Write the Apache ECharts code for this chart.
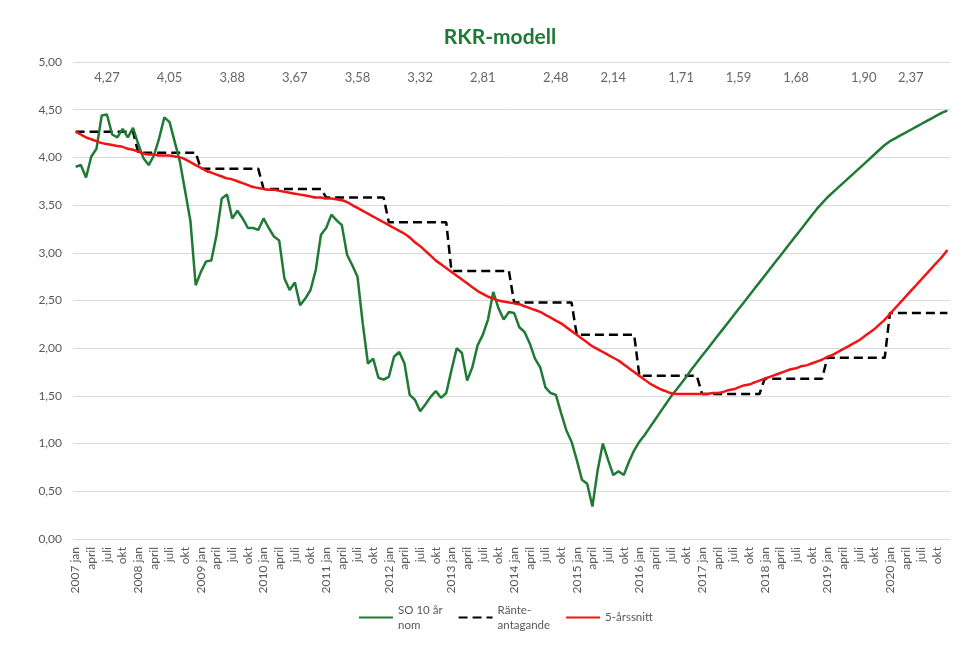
<!DOCTYPE html>
<html>
<head>
<meta charset="utf-8">
<script src="https://cdn.jsdelivr.net/npm/echarts@6/dist/echarts.min.js"></script>
<style>
  html, body { margin: 0; padding: 0; background: #ffffff; }
  #chart { width: 978px; height: 646px; }
</style>
</head>
<body>
<div id="chart"></div>
<script>
// Årtal och månadsnamn för kategoriaxeln
const years = [2007, 2008, 2009, 2010, 2011, 2012, 2013, 2014, 2015, 2016, 2017, 2018, 2019, 2020];
const monthNames = ['jan', 'feb', 'mars', 'april', 'maj', 'juni', 'juli', 'aug', 'sep', 'okt', 'nov', 'dec'];

// SO 10 år nom, månadsvärden jan 2007 – dec 2020
const so10Nom = [
  3.90, 3.92, 3.79, 4.01, 4.09, 4.44, 4.45, 4.24, 4.21, 4.30, 4.21, 4.31,
  4.14, 3.99, 3.92, 4.02, 4.20, 4.42, 4.37, 4.16, 3.95, 3.64, 3.33, 2.66,
  2.80, 2.91, 2.92, 3.19, 3.57, 3.61, 3.36, 3.44, 3.36, 3.26, 3.26, 3.24,
  3.36, 3.26, 3.17, 3.13, 2.73, 2.61, 2.69, 2.45, 2.52, 2.61, 2.82, 3.19,
  3.26, 3.40, 3.34, 3.29, 2.98, 2.87, 2.75, 2.26, 1.84, 1.89, 1.69, 1.67,
  1.70, 1.91, 1.96, 1.84, 1.51, 1.46, 1.34, 1.41, 1.49, 1.55, 1.48, 1.53,
  1.77, 2.00, 1.95, 1.66, 1.80, 2.03, 2.14, 2.30, 2.59, 2.42, 2.30, 2.38,
  2.37, 2.22, 2.17, 2.05, 1.89, 1.80, 1.59, 1.53, 1.51, 1.32, 1.14, 1.02,
  0.83, 0.62, 0.58, 0.34, 0.72, 1.00, 0.83, 0.67, 0.71, 0.67, 0.81, 0.93,
  1.02, 1.09, 1.17, 1.25, 1.33, 1.41, 1.49, 1.56, 1.63, 1.70, 1.78, 1.85,
  1.92, 1.99, 2.06, 2.13, 2.20, 2.27, 2.34, 2.41, 2.48, 2.55, 2.62, 2.69,
  2.76, 2.83, 2.90, 2.97, 3.04, 3.11, 3.18, 3.25, 3.32, 3.39, 3.46, 3.52,
  3.58, 3.63, 3.68, 3.73, 3.78, 3.83, 3.88, 3.93, 3.98, 4.03, 4.08, 4.13,
  4.17, 4.20, 4.23, 4.26, 4.29, 4.32, 4.35, 4.38, 4.41, 4.44, 4.47, 4.49
];

// Ränteantagande per år (gäller årets samtliga månader)
const ranteAntagande = [4.27, 4.05, 3.88, 3.67, 3.58, 3.32, 2.81, 2.48, 2.14, 1.71, 1.52, 1.68, 1.90, 2.37];

// 5-årssnitt, månadsvärden jan 2007 – dec 2020
const femArsSnitt = [
  4.27, 4.24, 4.21, 4.19, 4.17, 4.15, 4.14, 4.13, 4.12, 4.11, 4.09, 4.08,
  4.06, 4.04, 4.03, 4.03, 4.02, 4.02, 4.02, 4.01, 4.00, 3.98, 3.95, 3.92,
  3.89, 3.86, 3.84, 3.82, 3.80, 3.78, 3.77, 3.75, 3.73, 3.71, 3.69, 3.68,
  3.67, 3.66, 3.66, 3.65, 3.64, 3.63, 3.62, 3.61, 3.60, 3.59, 3.58, 3.58,
  3.57, 3.57, 3.56, 3.55, 3.53, 3.50, 3.47, 3.44, 3.41, 3.38, 3.35, 3.32,
  3.29, 3.26, 3.23, 3.20, 3.16, 3.11, 3.07, 3.02, 2.97, 2.92, 2.88, 2.84,
  2.80, 2.76, 2.72, 2.68, 2.64, 2.60, 2.57, 2.54, 2.52, 2.50, 2.49, 2.48,
  2.47, 2.46, 2.44, 2.42, 2.40, 2.38, 2.35, 2.32, 2.29, 2.26, 2.22, 2.18,
  2.14, 2.10, 2.06, 2.02, 1.99, 1.96, 1.93, 1.90, 1.87, 1.83, 1.79, 1.75,
  1.71, 1.67, 1.63, 1.60, 1.57, 1.55, 1.53, 1.52, 1.52, 1.52, 1.52, 1.52,
  1.52, 1.52, 1.53, 1.53, 1.54, 1.56, 1.57, 1.59, 1.61, 1.62, 1.64, 1.66,
  1.68, 1.70, 1.72, 1.74, 1.76, 1.78, 1.79, 1.81, 1.82, 1.84, 1.86, 1.88,
  1.91, 1.93, 1.96, 1.99, 2.02, 2.05, 2.08, 2.12, 2.16, 2.20, 2.25, 2.30,
  2.36, 2.42, 2.48, 2.54, 2.60, 2.66, 2.72, 2.78, 2.84, 2.90, 2.96, 3.03
];

// Årsvärden som skrivs ut överst i diagrammet, och den månad de står vid
const arsEtiketter = [4.27, 4.05, 3.88, 3.67, 3.58, 3.32, 2.81, 2.48, 2.14, 1.71, 1.59, 1.68, 1.90, 2.37];
const etikettManad = [6, 18, 30, 42, 54, 66, 78, 92, 103, 116, 127, 138, 151, 160];
const etikettNiva = 4.83;

// Y-axelns skala
const yMin = 0, yMax = 5, yStep = 0.5;

const seriesNames = ['SO 10 år\nnom', 'Ränte-\nantagande', '5-årssnitt'];

// Kategorier: en per månad
const categories = [];
years.forEach(y => monthNames.forEach((m, i) => categories.push(y + '-' + (i + 1))));

// Ränteantagandet utlagt på månader
const ranteManad = [];
ranteAntagande.forEach(v => { for (let i = 0; i < 12; i++) ranteManad.push(v); });

const fmt = v => v.toFixed(2).replace('.', ',');
const FONT = 'Lato, "Open Sans", sans-serif';

const chart = echarts.init(document.getElementById('chart'), null, { renderer: 'canvas' });

chart.setOption({
  backgroundColor: '#ffffff',
  animation: false,
  title: {
    text: 'RKR-modell',
    left: 500,
    top: 27,
    padding: 0,
    textAlign: 'center',
    textStyle: { fontFamily: FONT, fontSize: 21, fontWeight: 'bold', color: '#1f7a36' }
  },
  grid: { left: 73, right: 28, top: 62, bottom: 107, containLabel: false },
  legend: {
    left: 358,
    top: 595,
    padding: 0,
    itemWidth: 34,
    itemHeight: 14,
    itemGap: 15,
    itemStyle: { opacity: 0 },
    textStyle: { fontFamily: FONT, fontSize: 11.5, color: '#595959', lineHeight: 15 },
    data: [
      { name: seriesNames[0], textStyle: { padding: [15, 0, 0, 0] } },
      { name: seriesNames[1], textStyle: { padding: [15, 0, 0, 0] } },
      { name: seriesNames[2] }
    ]
  },
  xAxis: {
    type: 'category',
    data: categories,
    boundaryGap: true,
    axisLine: { show: false },
    axisTick: { show: false },
    splitLine: { show: false },
    axisLabel: {
      interval: 2,
      rotate: 90,
      margin: 8,
      fontFamily: FONT,
      fontSize: 12,
      color: '#595959',
      formatter: (val, idx) => {
        const m = idx % 12;
        return m === 0 ? years[Math.floor(idx / 12)] + ' jan' : monthNames[m];
      }
    }
  },
  yAxis: {
    type: 'value',
    min: yMin,
    max: yMax,
    interval: yStep,
    axisLine: { show: false },
    axisTick: { show: false },
    splitLine: { lineStyle: { color: '#d9d9d9', width: 1 } },
    axisLabel: {
      margin: 11,
      fontFamily: FONT,
      fontSize: 12,
      color: '#595959',
      formatter: v => fmt(v)
    }
  },
  series: [
    {
      name: seriesNames[0],
      type: 'line',
      data: so10Nom,
      symbol: 'none',
      lineStyle: { color: '#1f7a36', width: 2.5 },
      itemStyle: { color: '#1f7a36' },
      z: 3
    },
    {
      name: seriesNames[1],
      type: 'line',
      data: ranteManad,
      symbol: 'none',
      lineStyle: { color: '#000000', width: 2.5, type: [9, 5] },
      itemStyle: { color: '#000000' },
      z: 2
    },
    {
      name: seriesNames[2],
      type: 'line',
      data: femArsSnitt,
      symbol: 'none',
      smooth: 0.4,
      lineStyle: { color: '#f01414', width: 2.5 },
      itemStyle: { color: '#f01414' },
      z: 4
    },
    {
      name: 'årsvärden',
      type: 'scatter',
      silent: true,
      symbolSize: 0,
      data: etikettManad.map((m, k) => [m, etikettNiva, arsEtiketter[k]]),
      label: {
        show: true,
        position: 'inside',
        fontFamily: FONT,
        fontSize: 13,
        color: '#404040',
        formatter: p => fmt(p.value[2])
      },
      z: 5
    }
  ]
});
</script>
</body>
</html>
